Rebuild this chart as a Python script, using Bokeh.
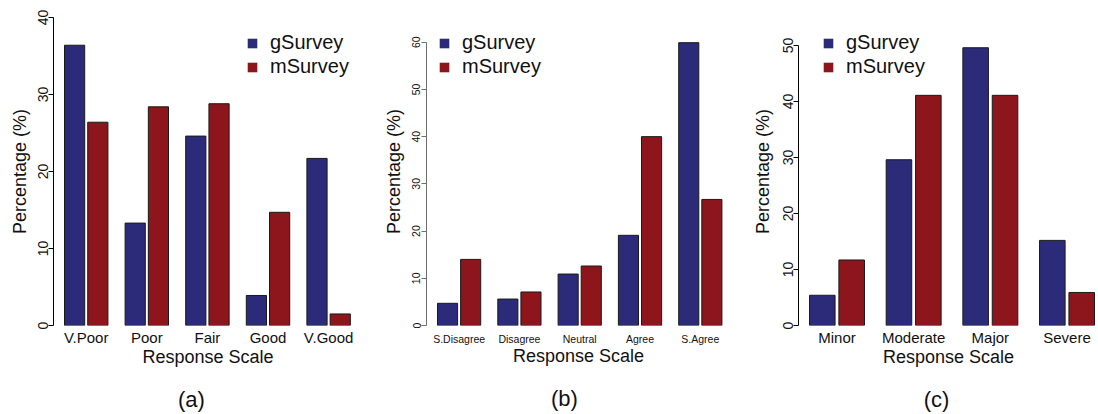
from bokeh.plotting import figure
from bokeh.layouts import row
from bokeh.models import FixedTicker, Legend, LegendItem, LinearAxis, Range1d
from bokeh.embed import file_html
from bokeh.resources import INLINE

# Survey responses (percentage of respondents) for the two survey modes
series = ["gSurvey", "mSurvey"]
colors = ["#2c2b7a", "#8c161c"]

cats_a = ["V.Poor", "Poor", "Fair", "Good", "V.Good"]
g_a = [36.4, 13.3, 24.6, 3.9, 21.7]
m_a = [26.4, 28.4, 28.8, 14.7, 1.5]

cats_b = ["S.Disagree", "Disagree", "Neutral", "Agree", "S.Agree"]
g_b = [4.7, 5.6, 10.9, 19.1, 59.9]
m_b = [14.0, 7.1, 12.6, 40.0, 26.7]

cats_c = ["Minor", "Moderate", "Major", "Severe"]
g_c = [5.4, 29.6, 49.6, 15.2]
m_c = [11.7, 41.1, 41.1, 5.9]

y_ticks_a = [0, 10, 20, 30, 40]
y_ticks_b = [0, 10, 20, 30, 40, 50, 60]
y_ticks_c = [0, 10, 20, 30, 40, 50]

FONT = "Liberation Sans"
GROUP_STEP = 3.0      # distance between category centres, in bar widths
HALF_OFFSET = 0.575   # bar centre offset from the category centre
HEIGHT = 414
TOP, BOTTOM = 17, 89  # shared frame borders, so the row stays aligned
FRAME_H = HEIGHT - TOP - BOTTOM
CAPTION_X = 138       # caption centre, pixels right of the y axis


def panel(cats, g, m, yticks, caption, width, border_left, border_right,
          axis_h, px_per_unit, tick_size, ytick_size, axis_color,
          legend_x, xlabel_standoff, ylabel_standoff, caption_standoff):
    frame_w = width - border_left - border_right
    x0 = -1.075 - 11.0 / px_per_unit
    x1 = x0 + frame_w / px_per_unit
    # the axis itself covers only axis_h pixels of the frame height
    y1 = yticks[-1] * FRAME_H / axis_h

    p = figure(width=width, height=HEIGHT, output_backend="svg",
               toolbar_location=None, x_range=Range1d(x0, x1),
               y_range=Range1d(0, y1),
               min_border_left=border_left, min_border_right=border_right,
               min_border_top=TOP, min_border_bottom=BOTTOM)
    p.outline_line_color = None
    p.grid.visible = False
    p.background_fill_color = "white"
    p.border_fill_color = "white"

    centers = [GROUP_STEP * i for i in range(len(cats))]
    xg = [c - HALF_OFFSET for c in centers]
    xm = [c + HALF_OFFSET for c in centers]
    # filled bars (also used as legend swatches), outlines drawn on top
    rg = p.vbar(x=xg, top=g, bottom=0, width=1, fill_color=colors[0], line_color=None)
    rm = p.vbar(x=xm, top=m, bottom=0, width=1, fill_color=colors[1], line_color=None)
    p.vbar(x=xg, top=g, bottom=0, width=1, fill_color=None, line_color="#1a1a1a", line_width=1)
    p.vbar(x=xm, top=m, bottom=0, width=1, fill_color=None, line_color="#1a1a1a", line_width=1)

    legend = Legend(items=[LegendItem(label=series[0], renderers=[rg]),
                           LegendItem(label=series[1], renderers=[rm])],
                    location=(legend_x, 247), padding=0, margin=0, spacing=1,
                    border_line_color=None, background_fill_alpha=0,
                    glyph_width=12, glyph_height=12, label_standoff=12,
                    label_text_font=FONT, label_text_font_size="20px",
                    label_text_color="#111111")
    p.add_layout(legend)

    xa = p.xaxis[0]
    xa.ticker = FixedTicker(ticks=centers)
    xa.major_label_overrides = {c: lab for c, lab in zip(centers, cats)}
    xa.axis_line_color = None
    xa.major_tick_line_color = None
    xa.minor_tick_line_color = None
    xa.major_tick_out = 0
    xa.major_label_standoff = xlabel_standoff
    xa.major_label_text_font = FONT
    xa.major_label_text_font_size = tick_size
    xa.major_label_text_color = "#111111"
    xa.axis_label = "Response Scale"
    xa.axis_label_text_font = FONT
    xa.axis_label_text_font_size = "18px"
    xa.axis_label_text_font_style = "normal"
    xa.axis_label_text_color = "#111111"
    xa.axis_label_standoff = -2

    ya = p.yaxis[0]
    ya.ticker = FixedTicker(ticks=yticks)
    ya.bounds = (yticks[0], yticks[-1])
    ya.axis_line_color = axis_color
    ya.major_tick_line_color = axis_color
    ya.minor_tick_line_color = None
    ya.major_tick_out = 5
    ya.major_tick_in = 0
    ya.major_label_orientation = "vertical"
    ya.major_label_standoff = 1
    ya.major_label_text_font = FONT
    ya.major_label_text_font_size = ytick_size
    ya.major_label_text_color = "#111111"
    ya.axis_label = "Percentage (%)"
    ya.axis_label_text_font = FONT
    ya.axis_label_text_font_size = "18px"
    ya.axis_label_text_font_style = "normal"
    ya.axis_label_text_color = "#111111"
    ya.axis_label_standoff = ylabel_standoff

    # sub-figure caption: a bare axis carrying a single tick label
    xc = round(x0 + CAPTION_X / px_per_unit, 4)
    cap = LinearAxis(ticker=FixedTicker(ticks=[xc]),
                     major_label_overrides={xc: caption},
                     axis_line_color=None, major_tick_line_color=None,
                     minor_tick_line_color=None, major_tick_out=0,
                     major_label_standoff=caption_standoff,
                     major_label_text_font=FONT,
                     major_label_text_font_size="22px",
                     major_label_text_color="#111111")
    p.add_layout(cap, "below")
    return p


pa = panel(cats_a, g_a, m_a, y_ticks_a, "(a)", 370, 53, 8, 308.0, 20.2,
           "15px", "14px", "black", 193, 3, 5, 17)
pb = panel(cats_b, g_b, m_b, y_ticks_b, "(b)", 370, 56, 10, 283.3, 20.1,
           "10.5px", "10.5px", "#6e6e6e", 12, 7, 6, 17)
pc = panel(cats_c, g_c, m_c, y_ticks_c, "(c)", 358, 58, 0, 280.0, 25.56,
           "15px", "14px", "black", 24, 3, 7, 17)

layout = row(pa, pb, pc, spacing=0)
open("out.html", "w").write(file_html(layout, INLINE))
